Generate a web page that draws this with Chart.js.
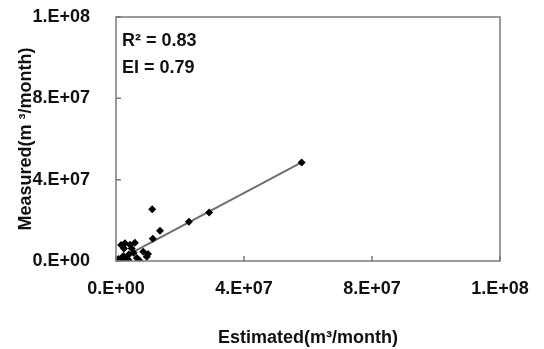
<!DOCTYPE html>
<html>
<head>
<meta charset="utf-8">
<script src="https://cdn.jsdelivr.net/npm/chart.js@4/dist/chart.umd.min.js"></script>
<style>
  html, body { margin: 0; padding: 0; background: #fff; }
  #wrap { width: 544px; height: 349px; }
</style>
</head>
<body>
<div id="wrap"><canvas id="chart" width="544" height="349"></canvas></div>
<script>
// values in units of 1e6 m3/month
const estimated = [58.0, 29.1, 22.8, 11.3, 13.75, 11.5,
  2.8, 1.6, 5.9, 4.4, 4.9, 2.5, 8.5, 9.6, 7.3, 1.8, 3.3, 1.2, 2.3, 3.8, 6.5, 10.0, 0.8, 4.0, 5.5];
const measured = [48.5, 23.8, 19.3, 25.4, 14.9, 11.0,
  8.7, 7.9, 9.0, 8.0, 6.2, 6.2, 4.6, 2.1, 0.3, 0.5, 1.3, 0.2, 2.5, 0.6, 1.5, 3.5, 1.0, 3.2, 4.0];
const trendX = [1.0, 58.0];
const trendSlope = 0.837;

const tickValues = [0, 4e7, 8e7, 1.2e8];
const tickLabels = ['0.E+00', '4.E+07', '8.E+07', '1.E+08'];
const statLines = ['R² = 0.83', 'EI = 0.79'];
const xTitle = 'Estimated(m³/month)';
const yTitle = 'Measured(m ³/month)';

const FONT = '"Liberation Sans", Arial, sans-serif';

const points = estimated.map((x, i) => ({ x: x * 1e6, y: measured[i] * 1e6 }));
const trend = trendX.map(x => ({ x: x * 1e6, y: x * trendSlope * 1e6 }));

// plot border plus inside tick marks, and the stats text
const frame = {
  id: 'frame',
  afterDraw(chart) {
    const { ctx, chartArea: a, scales } = chart;
    ctx.save();
    ctx.strokeStyle = '#7a7a7a';
    ctx.lineWidth = 1.5;
    ctx.strokeRect(a.left, a.top, a.right - a.left, a.bottom - a.top);
    ctx.beginPath();
    tickValues.forEach(v => {
      const px = scales.x.getPixelForValue(v);
      ctx.moveTo(px, a.bottom); ctx.lineTo(px, a.bottom - 5);
      const py = scales.y.getPixelForValue(v);
      ctx.moveTo(a.left, py); ctx.lineTo(a.left + 5, py);
    });
    ctx.stroke();
    ctx.fillStyle = '#111';
    ctx.font = 'bold 18px ' + FONT;
    ctx.textBaseline = 'middle';
    statLines.forEach((t, i) => ctx.fillText(t, a.left + 6, 41 + i * 27));
    ctx.restore();
  }
};

const tickOpts = {
  color: '#111',
  font: { family: FONT, size: 18, weight: 'bold' },
  padding: 0,
  callback: (v, i) => tickLabels[i],
};

// invisible tick marks used only to push the labels away from the axis
const hiddenGrid = len => ({
  display: true, drawOnChartArea: false, drawTicks: true,
  tickLength: len, tickColor: 'rgba(0,0,0,0)', color: 'rgba(0,0,0,0)',
});

new Chart(document.getElementById('chart'), {
  type: 'scatter',
  data: {
    datasets: [
      {
        data: points,
        pointStyle: 'rectRot',
        pointRadius: 4,
        backgroundColor: '#000',
        borderColor: '#000',
        borderWidth: 0,
        order: 1,
      },
      {
        data: trend,
        showLine: true,
        borderColor: '#6e6e6e',
        borderWidth: 2,
        pointRadius: 0,
        order: 2,
      },
    ],
  },
  options: {
    responsive: false,
    animation: false,
    layout: { padding: { top: 17, right: 44, left: 0, bottom: 0 } },
    plugins: { legend: { display: false }, tooltip: { enabled: false } },
    scales: {
      x: {
        type: 'linear', min: 0, max: 1.2e8,
        afterBuildTicks: s => { s.ticks = tickValues.map(v => ({ value: v })); },
        afterFit: s => { s.height = 88; },
        grid: hiddenGrid(17),
        border: { display: false },
        ticks: { ...tickOpts, maxRotation: 0 },
        title: {
          display: true, text: xTitle, color: '#111',
          font: { family: FONT, size: 18, weight: 'bold' },
          padding: { top: 0, bottom: 0 },
        },
      },
      y: {
        type: 'linear', min: 0, max: 1.2e8,
        afterBuildTicks: s => { s.ticks = tickValues.map(v => ({ value: v })); },
        afterFit: s => { s.width = 116; },
        grid: hiddenGrid(26),
        border: { display: false },
        ticks: tickOpts,
        title: {
          display: true, text: yTitle, color: '#111',
          font: { family: FONT, size: 18, weight: 'bold' },
          padding: { top: 15, bottom: 0 },
        },
      },
    },
  },
  plugins: [frame],
});
</script>
</body>
</html>
